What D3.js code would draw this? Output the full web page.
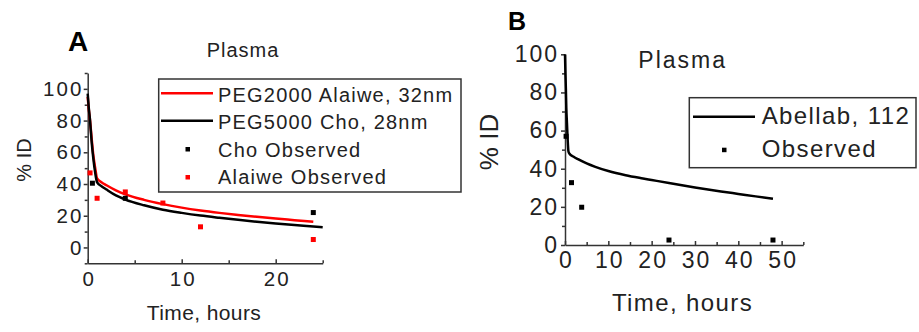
<!DOCTYPE html>
<html lang="en">
<head>
<meta charset="utf-8">
<title>Plasma</title>
<script src="https://d3js.org/d3.v7.min.js"></script>
<style>
  body { margin: 0; background: #fff; }
  svg text { font-family: "Liberation Sans", Arial, sans-serif; fill: #222; }
  .axis path, .axis line { stroke: #333; stroke-width: 1.5; }
  .axis text { fill: #222; }
</style>
</head>
<body>
<div id="chart"></div>
<script>
// ---- panel A data ----
var fitTimeA = [0, 0.1, 0.25, 0.4, 0.6, 0.8, 1, 1.5, 2, 3, 4, 6, 8, 10, 12, 14, 16, 18, 20, 22, 24, 25];
var alaiweFit = [95, 88, 80, 70, 58, 50, 43.5, 41, 39.2, 36, 33.5, 30, 27.3, 25.1, 23.3, 21.8, 20.5, 19.3, 18.2, 17.2, 16.2, null];
var choFit = [97, 89, 80, 68, 56, 47, 41, 38.5, 36.5, 32.8, 30.2, 26.6, 23.8, 21.8, 20.1, 18.7, 17.4, 16.2, 15.1, 14.1, 13.2, 12.7];
var choObsTime = [0.5, 4, 24];
var choObs = [40.5, 31, 22];
var alaiweObsTime = [0.25, 1, 4, 8, 12, 24];
var alaiweObs = [47, 31, 35, 28, 13, 5];
var yTicksA = [0, 20, 40, 60, 80, 100];
var xTicksA = [0, 10, 20];
var legendA = ["PEG2000 Alaiwe, 32nm", "PEG5000 Cho, 28nm", "Cho Observed", "Alaiwe Observed"];

// ---- panel B data ----
var fitTimeB = [0, 0.1, 0.2, 0.3, 0.45, 0.6, 0.8, 1, 2, 3, 5, 7, 10, 14, 18, 20, 24, 30, 36, 40, 44, 48];
var abellabFit = [100, 90, 82, 72, 64, 56, 49, 48, 46.3, 45, 42.8, 41, 38.8, 36.6, 34.9, 34.1, 32.5, 30.2, 28.1, 26.8, 25.5, 24.2];
var obsTimeB = [0.25, 1.5, 3.85, 24, 48];
var obsB = [57, 32.7, 19.8, 2.6, 2.6];
var yTicksB = [0, 20, 40, 60, 80, 100];
var xTicksB = [0, 10, 20, 30, 40, 50];
var legendB = ["Abellab, 112", "Observed"];

var svg = d3.select("#chart").append("svg")
  .attr("width", 919)
  .attr("height", 332);

function pairs(xs, ys) {
  return xs.map(function(t, i) { return [t, ys[i]]; })
    .filter(function(d) { return d[1] != null; });
}

function drawAxes(g, x, y, opt) {
  // minor ticks first
  g.append("g").attr("class", "axis")
    .attr("transform", "translate(" + x.range()[0] + ",0)")
    .call(d3.axisLeft(y).tickValues(opt.yMinor).tickSize(3).tickFormat(""))
    .select(".domain").remove();
  g.append("g").attr("class", "axis")
    .attr("transform", "translate(0," + y.range()[0] + ")")
    .call(d3.axisBottom(x).tickValues(opt.xMinor).tickSizeInner(-3).tickSizeOuter(0).tickFormat(""))
    .select(".domain").remove();

  var ya = g.append("g").attr("class", "axis")
    .attr("transform", "translate(" + x.range()[0] + ",0)")
    .call(d3.axisLeft(y).tickValues(opt.yTicks).tickSizeInner(4).tickSizeOuter(0).tickPadding(opt.yPad));
  ya.selectAll("text").style("font-size", opt.tickFont + "px").style("letter-spacing", opt.tickSpacing + "px");

  var xa = g.append("g").attr("class", "axis")
    .attr("transform", "translate(0," + y.range()[0] + ")")
    .call(d3.axisBottom(x).tickValues(opt.xTicks).tickSizeInner(-4).tickSizeOuter(0).tickPadding(opt.xPad));
  xa.selectAll("text").style("font-size", opt.tickFont + "px").style("letter-spacing", opt.tickSpacing + "px")
    .attr("dx", (opt.tickSpacing / 2) + "px");
}

// ================= Panel A =================
var xA = d3.scaleLinear().domain([0, 25]).range([87.7, 322.7]);
var yA = d3.scaleLinear().domain([-10, 110]).range([263.3, 73]);
var gA = svg.append("g");

drawAxes(gA, xA, yA, {
  yTicks: yTicksA, xTicks: xTicksA,
  yMinor: [-10, 10, 30, 50, 70, 90, 110], xMinor: [5, 15, 25],
  tickFont: 20.5, tickSpacing: 2.2, yPad: 0, xPad: 8
});

var lineA = d3.line().curve(d3.curveMonotoneX)
  .x(function(d) { return xA(d[0]); }).y(function(d) { return yA(d[1]); });
gA.append("path").datum(pairs(fitTimeA, alaiweFit))
  .attr("d", lineA).attr("fill", "none").attr("stroke", "#ff0000").attr("stroke-width", 2.5);
gA.append("path").datum(pairs(fitTimeA, choFit))
  .attr("d", lineA).attr("fill", "none").attr("stroke", "#000").attr("stroke-width", 2.5);

gA.selectAll(".choObs").data(pairs(choObsTime, choObs)).enter().append("rect")
  .attr("x", function(d) { return xA(d[0]) - 2.5; })
  .attr("y", function(d) { return yA(d[1]) - 2.5; })
  .attr("width", 5).attr("height", 5).attr("fill", "#000");
gA.selectAll(".alObs").data(pairs(alaiweObsTime, alaiweObs)).enter().append("rect")
  .attr("x", function(d) { return xA(d[0]) - 2.5; })
  .attr("y", function(d) { return yA(d[1]) - 2.5; })
  .attr("width", 5).attr("height", 5).attr("fill", "#ff0000");

// legend A
gA.append("rect").attr("x", 158.7).attr("y", 79).attr("width", 302.3).attr("height", 113)
  .attr("fill", "#fff").attr("stroke", "#333").attr("stroke-width", 1.5);
var legARows = [101.5, 129, 156.5, 184];
gA.append("line").attr("x1", 161).attr("x2", 213).attr("y1", 93.3).attr("y2", 93.3)
  .attr("stroke", "#ff0000").attr("stroke-width", 2.5);
gA.append("line").attr("x1", 161).attr("x2", 213).attr("y1", 120.7).attr("y2", 120.7)
  .attr("stroke", "#000").attr("stroke-width", 2.5);
gA.append("rect").attr("x", 185.5).attr("y", 147).attr("width", 4.5).attr("height", 4.5).attr("fill", "#000");
gA.append("rect").attr("x", 185.5).attr("y", 175).attr("width", 4.5).attr("height", 4.5).attr("fill", "#ff0000");
gA.selectAll(".legA").data(legendA).enter().append("text")
  .attr("x", 218).attr("y", function(d, i) { return legARows[i]; })
  .style("font-size", "20px").style("letter-spacing", "1.2px")
  .text(function(d) { return d; });

gA.append("text").attr("x", 68).attr("y", 50.7)
  .style("font-size", "28px").style("font-weight", "bold").style("fill", "#000").text("A");
gA.append("text").attr("x", 206.7).attr("y", 57.3)
  .style("font-size", "20px").style("letter-spacing", "1px").text("Plasma");
gA.append("text").attr("transform", "translate(31,160) rotate(-90)")
  .attr("text-anchor", "middle").style("font-size", "20px").text("% ID");
gA.append("text").attr("x", 204).attr("y", 320).attr("text-anchor", "middle")
  .style("font-size", "21px").style("letter-spacing", "0.4px").text("Time, hours");

// ================= Panel B =================
var xB = d3.scaleLinear().domain([0, 55]).range([565, 803.3]);
var yB = d3.scaleLinear().domain([0, 100]).range([245, 54.3]);
var gB = svg.append("g");

drawAxes(gB, xB, yB, {
  yTicks: yTicksB, xTicks: xTicksB,
  yMinor: [10, 30, 50, 70, 90], xMinor: [5, 15, 25, 35, 45, 55],
  tickFont: 23, tickSpacing: 2, yPad: 2, xPad: 7
});

var lineB = d3.line().curve(d3.curveMonotoneX)
  .x(function(d) { return xB(d[0]); }).y(function(d) { return yB(d[1]); });
gB.append("path").datum(pairs(fitTimeB, abellabFit))
  .attr("d", lineB).attr("fill", "none").attr("stroke", "#000").attr("stroke-width", 2.5);

gB.selectAll(".obsB").data(pairs(obsTimeB, obsB)).enter().append("rect")
  .attr("x", function(d) { return xB(d[0]) - 2.5; })
  .attr("y", function(d) { return yB(d[1]) - 2.5; })
  .attr("width", 5).attr("height", 5).attr("fill", "#000");

// legend B
gB.append("rect").attr("x", 689.3).attr("y", 97.7).attr("width", 226.7).attr("height", 70)
  .attr("fill", "#fff").attr("stroke", "#333").attr("stroke-width", 1.5);
gB.append("line").attr("x1", 693).attr("x2", 755).attr("y1", 116.7).attr("y2", 116.7)
  .attr("stroke", "#000").attr("stroke-width", 2.5);
gB.append("rect").attr("x", 722).attr("y", 147.7).attr("width", 4.5).attr("height", 4.5).attr("fill", "#000");
var legBRows = [124, 156.5];
gB.selectAll(".legB").data(legendB).enter().append("text")
  .attr("x", 761.7).attr("y", function(d, i) { return legBRows[i]; })
  .style("font-size", "24px").style("letter-spacing", "1.4px")
  .text(function(d) { return d; });

gB.append("text").attr("x", 508).attr("y", 30)
  .style("font-size", "25px").style("font-weight", "bold").style("fill", "#000").text("B");
gB.append("text").attr("x", 638.3).attr("y", 68.3)
  .style("font-size", "23px").style("letter-spacing", "2px").text("Plasma");
gB.append("text").attr("transform", "translate(498,142) rotate(-90)")
  .attr("text-anchor", "middle").style("font-size", "26px").text("% ID");
gB.append("text").attr("x", 682.5).attr("y", 311).attr("text-anchor", "middle")
  .style("font-size", "24px").style("letter-spacing", "1.4px").text("Time, hours");
</script>
</body>
</html>
